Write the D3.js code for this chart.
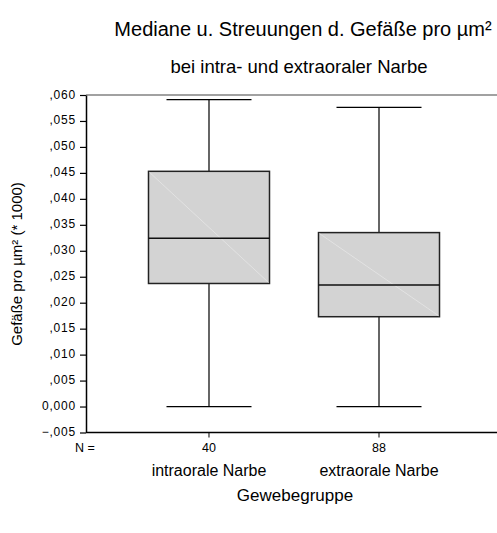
<!DOCTYPE html>
<html>
<head>
<script src="https://d3js.org/d3.v7.min.js"></script>
<title>Mediane u. Streuungen</title>
<style>
  body { margin: 0; background: #fff; }
  text { font-family: "Liberation Sans", Arial, sans-serif; fill: #000; }
</style>
</head>
<body>
<div id="chart"></div>
<script>
  // data
  var groups = ['intraorale Narbe', 'extraorale Narbe'];
  var counts = [40, 88];
  var whiskerLow = [0.0, 0.0];
  var q1 = [0.0237, 0.0173];
  var median = [0.0324, 0.0234];
  var q3 = [0.0453, 0.0335];
  var whiskerHigh = [0.0591, 0.0576];
  var yTicks = [-0.005, 0, 0.005, 0.01, 0.015, 0.02, 0.025, 0.03, 0.035, 0.04, 0.045, 0.05, 0.055, 0.06];

  var width = 497, height = 533;
  var mLeft = 86, mRight = 502, mTop = 95, mBottom = 432.5;

  var svg = d3.select('#chart').append('svg').attr('width', width).attr('height', height);

  var y = d3.scaleLinear().domain([-0.005, 0.06]).range([mBottom, mTop]);
  var x = d3.scalePoint().domain(groups).range([mLeft, mRight]).padding(0.7235);

  function fmt(v) {
    if (Math.abs(v) < 1e-9) return '0,000';
    var s = d3.format('.3f')(v).replace('.', ',');
    return s.replace('0,', ',');
  }

  // top frame line
  svg.append('line')
    .attr('x1', mLeft).attr('x2', width)
    .attr('y1', mTop).attr('y2', mTop)
    .attr('stroke', '#444').attr('stroke-width', 1.2);

  // y axis
  var yAxis = svg.append('g')
    .attr('transform', 'translate(' + mLeft + ',0)')
    .call(d3.axisLeft(y).tickValues(yTicks).tickSize(6).tickSizeOuter(0).tickFormat(fmt));
  yAxis.select('.domain').attr('stroke', '#000').attr('stroke-width', 1.5);
  yAxis.selectAll('.tick line').attr('stroke', '#000').attr('stroke-width', 1.2);
  yAxis.selectAll('.tick text')
    .attr('font-size', 12).attr('font-family', '"Liberation Sans", Arial, sans-serif')
    .attr('letter-spacing', 0.8)
    .attr('x', -10).attr('dy', '0.25em');

  // x axis line
  svg.append('line')
    .attr('x1', mLeft).attr('x2', width)
    .attr('y1', mBottom).attr('y2', mBottom)
    .attr('stroke', '#000').attr('stroke-width', 1.5);
  svg.selectAll('.xtick').data(groups).enter().append('line')
    .attr('x1', function(d) { return x(d); }).attr('x2', function(d) { return x(d); })
    .attr('y1', mBottom).attr('y2', mBottom + 5)
    .attr('stroke', '#000').attr('stroke-width', 1);

  var boxW = 121, capW = 85;
  var g = svg.selectAll('.box').data(groups).enter().append('g');

  // whiskers
  g.append('line')
    .attr('x1', function(d) { return x(d); }).attr('x2', function(d) { return x(d); })
    .attr('y1', function(d, i) { return y(whiskerHigh[i]); })
    .attr('y2', function(d, i) { return y(q3[i]); })
    .attr('stroke', '#000').attr('stroke-width', 1.2);
  g.append('line')
    .attr('x1', function(d) { return x(d); }).attr('x2', function(d) { return x(d); })
    .attr('y1', function(d, i) { return y(q1[i]); })
    .attr('y2', function(d, i) { return y(whiskerLow[i]); })
    .attr('stroke', '#000').attr('stroke-width', 1.2);
  g.append('line')
    .attr('x1', function(d) { return x(d) - capW / 2; }).attr('x2', function(d) { return x(d) + capW / 2; })
    .attr('y1', function(d, i) { return y(whiskerHigh[i]); })
    .attr('y2', function(d, i) { return y(whiskerHigh[i]); })
    .attr('stroke', '#000').attr('stroke-width', 1.2);
  g.append('line')
    .attr('x1', function(d) { return x(d) - capW / 2; }).attr('x2', function(d) { return x(d) + capW / 2; })
    .attr('y1', function(d, i) { return y(whiskerLow[i]); })
    .attr('y2', function(d, i) { return y(whiskerLow[i]); })
    .attr('stroke', '#000').attr('stroke-width', 1.2);

  // boxes
  g.append('rect')
    .attr('x', function(d) { return x(d) - boxW / 2; })
    .attr('y', function(d, i) { return y(q3[i]); })
    .attr('width', boxW)
    .attr('height', function(d, i) { return y(q1[i]) - y(q3[i]); })
    .attr('fill', '#d3d3d3').attr('stroke', '#222').attr('stroke-width', 1.5);
  // faint diagonal inside boxes
  g.append('line')
    .attr('x1', function(d) { return x(d) - boxW / 2 + 1; })
    .attr('y1', function(d, i) { return y(q3[i]) + 1; })
    .attr('x2', function(d) { return x(d) + boxW / 2 - 1; })
    .attr('y2', function(d, i) { return y(q1[i]) - 1; })
    .attr('stroke', '#e6e6e6').attr('stroke-width', 0.8);
  // median
  g.append('line')
    .attr('x1', function(d) { return x(d) - boxW / 2; }).attr('x2', function(d) { return x(d) + boxW / 2; })
    .attr('y1', function(d, i) { return y(median[i]); })
    .attr('y2', function(d, i) { return y(median[i]); })
    .attr('stroke', '#111').attr('stroke-width', 1.5);

  // N labels
  svg.append('text').text('N =')
    .attr('x', 85).attr('y', 452).attr('text-anchor', 'middle').attr('font-size', 12.5);
  g.append('text').text(function(d, i) { return counts[i]; })
    .attr('x', function(d) { return x(d); }).attr('y', 452)
    .attr('text-anchor', 'middle').attr('font-size', 12.5);
  g.append('text').text(function(d) { return d; })
    .attr('x', function(d) { return x(d); }).attr('y', 476)
    .attr('text-anchor', 'middle').attr('font-size', 16);

  // axis titles
  svg.append('text').text('Gewebegruppe')
    .attr('x', 295).attr('y', 501).attr('text-anchor', 'middle').attr('font-size', 17);
  svg.append('text').text('Gefäße pro µm² (* 1000)')
    .attr('transform', 'translate(22,264) rotate(-90)')
    .attr('text-anchor', 'middle').attr('font-size', 15);

  // titles
  svg.append('text').text('Mediane u. Streuungen d. Gefäße pro µm²')
    .attr('x', 303).attr('y', 36).attr('text-anchor', 'middle').attr('font-size', 20);
  svg.append('text').text('bei intra- und extraoraler Narbe')
    .attr('x', 299).attr('y', 73).attr('text-anchor', 'middle').attr('font-size', 18.5);
</script>
</body>
</html>
